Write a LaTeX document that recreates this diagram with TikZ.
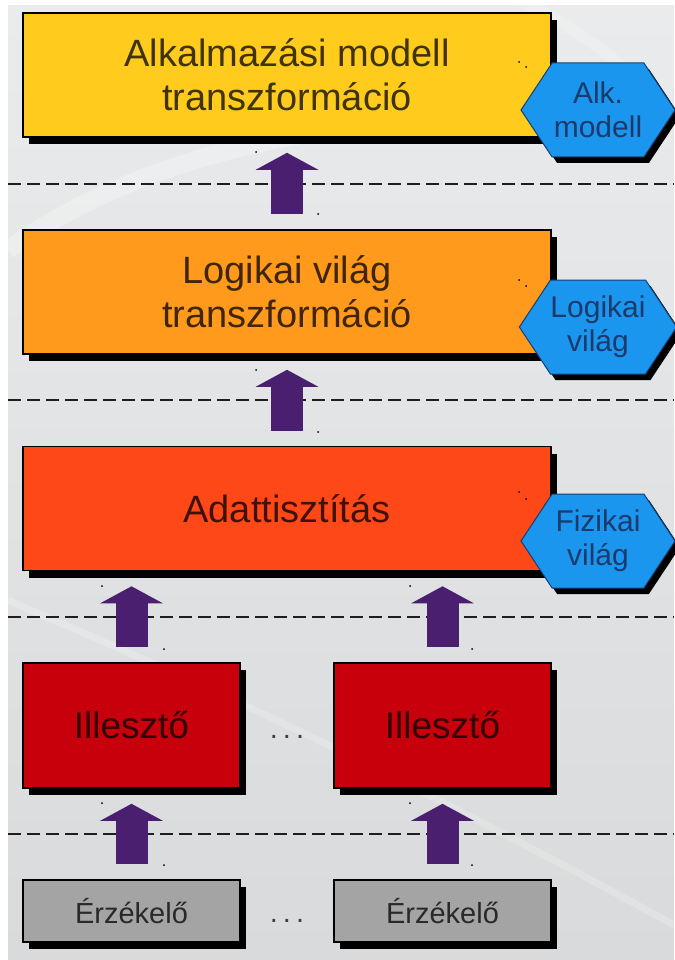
\documentclass[tikz,border=0pt]{standalone}
\usepackage{fontspec}
\setmainfont{Liberation Sans}
\usetikzlibrary{shapes.symbols,shadows,arrows.meta}

\definecolor{bgtop}{HTML}{E9EBEC}
\definecolor{bgbot}{HTML}{D8DADB}
\definecolor{appyellow}{HTML}{FFCC1E}
\definecolor{logorange}{HTML}{FF9A1C}
\definecolor{cleanred}{HTML}{FF4817}
\definecolor{adaptred}{HTML}{C8000B}
\definecolor{sensorgray}{HTML}{A4A4A4}
\definecolor{hexblue}{HTML}{1A96EE}
\definecolor{hexline}{HTML}{163E72}
\definecolor{hextext}{HTML}{1C3A6C}
\definecolor{flowpurple}{HTML}{4B1F6F}
\definecolor{sepline}{HTML}{1E1E1E}

\begin{document}
\begin{tikzpicture}[x=1pt,y=-1pt,
  boxbase/.style={draw=black, line width=1.6pt, inner sep=0pt, align=center,
    text=black, text opacity=0.75,
    drop shadow={shadow xshift=6pt, shadow yshift=-7pt, opacity=1, fill=black}},
  layer/.style={boxbase, minimum width=528pt, minimum height=124pt,
    font=\fontsize{38}{44}\selectfont},
  adapter/.style={boxbase, minimum width=217pt, minimum height=125pt,
    font=\fontsize{37}{44}\selectfont},
  sensor/.style={boxbase, minimum width=217pt, minimum height=62pt,
    font=\fontsize{29}{34}\selectfont},
  world/.style={signal, signal to=east and west, signal pointer angle=113,
    minimum width=154pt, minimum height=94pt, inner sep=0pt,
    fill=hexblue, draw=hexline, line width=1pt, align=center,
    text=hextext, font=\fontsize{30}{34}\selectfont,
    drop shadow={shadow xshift=5pt, shadow yshift=-6pt, opacity=1, fill=black}},
  flow/.style={flowpurple, line width=32pt,
    -{Triangle[length=17pt,width=62pt]}, shorten <=15pt, shorten >=15pt},
  separator/.style={sepline, line width=2pt, dash pattern=on 13pt off 6pt},
  ellipsisdots/.style={text=black!75, font=\fontsize{29}{34}\selectfont, inner sep=0pt},
  handle/.style={fill=black}
]
\useasboundingbox (0,0) rectangle (674,960);

% slide background with a few soft light swooshes
\fill[white] (0,0) rectangle (674,960);
\fill[top color=bgtop, bottom color=bgbot] (8,6) rectangle (674,960);
\begin{scope}
  \clip (8,6) rectangle (674,960);
  \draw[white, opacity=0.30, line width=18pt] (8,250) .. controls (90,190) and (200,150) .. (330,130);
  \draw[white, opacity=0.20, line width=7pt] (8,600) .. controls (120,650) and (300,720) .. (674,925);
  \draw[white, opacity=0.20, line width=12pt] (520,0) .. controls (600,40) and (640,80) .. (674,120);
\end{scope}

% layer separators
\draw[separator] (8,184) -- (674,184);
\draw[separator] (8,400) -- (674,400);
\draw[separator] (8,617) -- (674,617);
\draw[separator] (8,834) -- (674,834);

% processing layers
\node[layer, fill=appyellow] (app) at (287,75) {Alkalmazási modell\\transzformáció};
\node[layer, fill=logorange] (logic) at (287,292) {Logikai világ\\transzformáció};
\node[layer, fill=cleanred] (clean) at (287,508.5) {Adattisztítás};
\node[adapter, fill=adaptred] (ad1) at (131.5,725.5) {Illesztő};
\node[adapter, fill=adaptred] (ad2) at (442.5,725.5) {Illesztő};
\node[sensor, fill=sensorgray] (se1) at (131.5,911) {Érzékelő};
\node[sensor, fill=sensorgray] (se2) at (442.5,911) {Érzékelő};

\node[ellipsisdots] (dots1) at (287,737) {.\hspace{5pt}.\hspace{5pt}.};
\node[ellipsisdots] (dots2) at (287,921) {.\hspace{5pt}.\hspace{5pt}.};

% world models
\node[world] (wapp) at (598,110) {Alk.\\modell};
\node[world] (wlogic) at (598,327) {Logikai\\világ};
\node[world] (wphys) at (598,541) {Fizikai\\világ};

% data flow upwards
\draw[flow] (logic.north) -- (app.south);
\draw[flow] (clean.north) -- (logic.south);
\draw[flow] (ad1.north) -- (ad1.north |- clean.south);
\draw[flow] (ad2.north) -- (ad2.north |- clean.south);
\draw[flow] (se1.north) -- (se1.north |- ad1.south);
\draw[flow] (se2.north) -- (se2.north |- ad2.south);

% small selection handles
\foreach \hx/\hy in {256/152, 318/214, 256/370, 318/432,
                     102/586, 164/649, 410/586, 472/649,
                     102/803, 164/865, 410/803, 472/865,
                     519/62, 526/67, 519/280, 526/286, 519/492, 526/499}
  \fill[handle] (\hx,\hy) circle (1pt);
\end{tikzpicture}
\end{document}
